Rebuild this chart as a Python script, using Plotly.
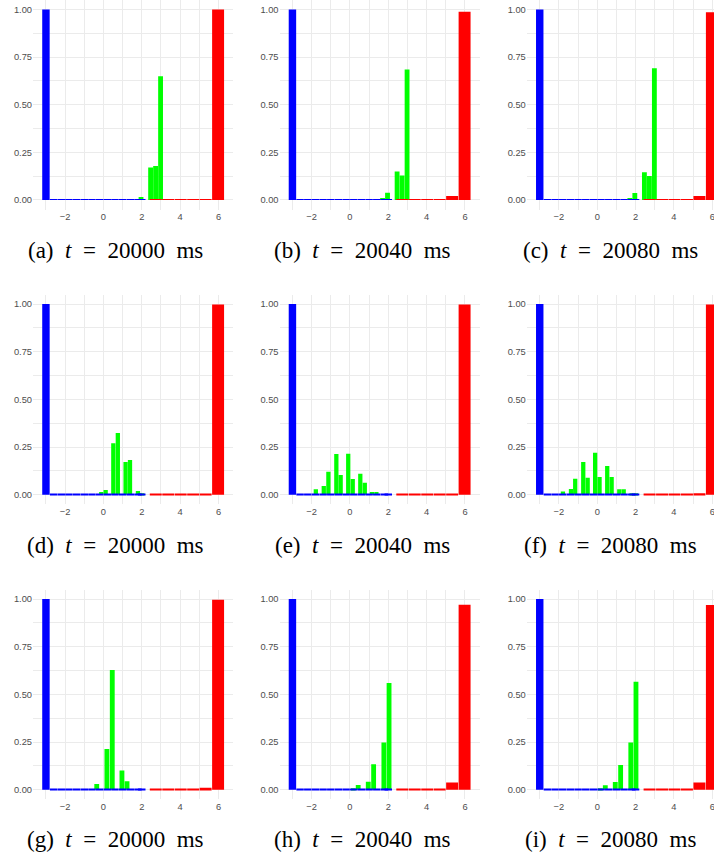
import plotly.graph_objects as go

# ---------------------------------------------------------------------------
# Data: histogram bins (centres) and bar heights for the three populations
# shown in each of the nine snapshots, (a)..(i).
# ---------------------------------------------------------------------------
PANEL_LABELS = ["(a)", "(b)", "(c)", "(d)", "(e)", "(f)", "(g)", "(h)", "(i)"]
TIMES_MS = [20000, 20040, 20080, 20000, 20040, 20080, 20000, 20040, 20080]

X_TICKS = [-2, 0, 2, 4, 6]
X_TICK_TEXT = ["\u22122", "0", "2", "4", "6"]
X_MINOR = [-3, -1, 1, 3, 5]
Y_TICKS = [0.0, 0.25, 0.5, 0.75, 1.0]
Y_TICK_TEXT = ["0.00", "0.25", "0.50", "0.75", "1.00"]
Y_MINOR = [0.125, 0.375, 0.625, 0.875]

# blue population: one bin grid shared by all snapshots
BLUE_BIN_WIDTH = 0.4
BLUE_CENTERS = [-3.0, -2.6, -2.2, -1.8, -1.4, -1.0, -0.6, -0.2,
                0.2, 0.6, 1.0, 1.4, 1.8, 2.0]
BLUE_HEIGHTS = [1.0, 0.005, 0.002, 0.002, 0.002, 0.002, 0.002, 0.002,
                0.002, 0.002, 0.002, 0.002, 0.002, 0.002]

# red population
RED_BIN_WIDTH = 0.65
RED_CENTERS = [2.73, 3.38, 4.03, 4.68, 5.33, 5.98]
RED_HEIGHTS = [
    [0.002, 0.002, 0.002, 0.002, 0.005, 1.000],
    [0.002, 0.002, 0.002, 0.005, 0.021, 0.988],
    [0.002, 0.002, 0.002, 0.005, 0.021, 0.986],
    [0.002, 0.002, 0.002, 0.002, 0.005, 0.997],
    [0.002, 0.002, 0.002, 0.002, 0.004, 0.997],
    [0.002, 0.002, 0.002, 0.004, 0.007, 0.997],
    [0.002, 0.002, 0.002, 0.005, 0.010, 0.996],
    [0.002, 0.002, 0.002, 0.005, 0.037, 0.970],
    [0.002, 0.002, 0.002, 0.005, 0.038, 0.969],
]

# green population (bin width differs per row of snapshots)
GREEN_BIN_WIDTH = [0.26, 0.23, 0.26]
GREEN_CENTERS = [
    [1.96, 2.46, 2.72, 2.98],
    [1.70, 1.96, 2.46, 2.72, 2.98],
    [1.70, 1.96, 2.46, 2.72, 2.98],
    [-0.115, 0.115, 0.515, 0.75, 1.155, 1.385, 1.80, 2.025],
    [-1.78, -1.365, -1.125, -0.71, -0.485, -0.09, 0.145, 0.54, 0.775, 1.145, 1.38],
    [-1.79, -1.37, -1.15, -0.73, -0.50, -0.11, 0.12, 0.52, 0.75, 1.15, 1.38, 1.79, 2.02],
    [-0.35, 0.18, 0.46, 0.965, 1.23],
    [0.175, 0.43, 0.955, 1.235, 1.77, 2.04],
    [0.16, 0.42, 0.94, 1.22, 1.75, 2.02],
]
GREEN_HEIGHTS = [
    [0.015, 0.170, 0.178, 0.650],
    [0.010, 0.038, 0.149, 0.128, 0.685],
    [0.010, 0.037, 0.145, 0.126, 0.692],
    [0.014, 0.024, 0.270, 0.323, 0.171, 0.182, 0.019, 0.007],
    [0.028, 0.045, 0.120, 0.213, 0.103, 0.215, 0.082, 0.110, 0.063, 0.014, 0.014],
    [0.016, 0.030, 0.084, 0.171, 0.089, 0.220, 0.093, 0.150, 0.093, 0.028, 0.028, 0.007, 0.007],
    [0.030, 0.213, 0.628, 0.101, 0.044],
    [0.007, 0.024, 0.042, 0.133, 0.248, 0.559],
    [0.007, 0.023, 0.040, 0.129, 0.247, 0.566],
]

# ---------------------------------------------------------------------------
# Layout geometry (figure is 714 x 856 px)
# ---------------------------------------------------------------------------
W, H = 714, 856
COL_LEFT_PX = [33.0, 279.5, 526.8]
PX_PER_UNIT = 19.17
X_MIN, X_MAX = -3.675, 6.775
ROW_TOP_PX = [0.0, 294.5, 589.5]
ROW_BOTTOM_PX = [209.5, 504.2, 799.2]
CAPTION_X_PX = [115.0, 362.0, 610.0]
CAPTION_Y_PX = [250.0, 545.0, 839.0]

GRID = "#EBEBEB"
TICK_FONT = dict(family="Liberation Sans, Arial, sans-serif", size=9.3, color="#4D4D4D")
BLUE, GREEN, RED = "#0000FF", "#00FF00", "#FF0000"

fig = go.Figure()
layout = dict(
    width=W, height=H, autosize=False,
    margin=dict(l=0, r=0, t=0, b=0),
    paper_bgcolor="white", plot_bgcolor="white",
    barmode="overlay", showlegend=False, hovermode=False,
    annotations=[],
)

for i in range(9):
    r, c = divmod(i, 3)
    suffix = "" if i == 0 else str(i + 1)
    xref, yref = "x" + suffix, "y" + suffix

    left = COL_LEFT_PX[c]
    right_px = left + (X_MAX - X_MIN) * PX_PER_UNIT
    if right_px > W:
        x_hi = X_MIN + (W - left) / PX_PER_UNIT
        right_px = W
    else:
        x_hi = X_MAX

    gw = GREEN_BIN_WIDTH[r]
    fig.add_trace(go.Bar(
        x=GREEN_CENTERS[i], y=GREEN_HEIGHTS[i], width=[gw * 0.97] * len(GREEN_CENTERS[i]),
        marker=dict(color=GREEN, line=dict(width=0)), xaxis=xref, yaxis=yref))
    fig.add_trace(go.Bar(
        x=BLUE_CENTERS, y=BLUE_HEIGHTS, width=[BLUE_BIN_WIDTH * 0.97] * len(BLUE_CENTERS),
        marker=dict(color=BLUE, line=dict(width=0)), xaxis=xref, yaxis=yref))
    fig.add_trace(go.Bar(
        x=RED_CENTERS, y=RED_HEIGHTS[i], width=[RED_BIN_WIDTH * 0.96] * len(RED_CENTERS),
        marker=dict(color=RED, line=dict(width=0)), xaxis=xref, yaxis=yref))

    layout["xaxis" + suffix] = dict(
        domain=[left / W, right_px / W], anchor=yref, range=[X_MIN, x_hi],
        tickmode="array", tickvals=X_TICKS, ticktext=X_TICK_TEXT,
        showgrid=True, gridcolor=GRID, gridwidth=1,
        minor=dict(tickmode="array", tickvals=X_MINOR, showgrid=True,
                   gridcolor=GRID, gridwidth=0.7),
        zeroline=False, showline=False, ticks="", tickfont=TICK_FONT,
        ticklabeloverflow="allow", fixedrange=True,
    )
    layout["yaxis" + suffix] = dict(
        domain=[1 - ROW_BOTTOM_PX[r] / H, 1 - ROW_TOP_PX[r] / H], anchor=xref,
        range=[-0.05, 1.05],
        tickmode="array", tickvals=Y_TICKS, ticktext=Y_TICK_TEXT,
        showgrid=True, gridcolor=GRID, gridwidth=1,
        minor=dict(tickmode="array", tickvals=Y_MINOR, showgrid=True,
                   gridcolor=GRID, gridwidth=0.7),
        zeroline=False, showline=False, ticks="", tickfont=TICK_FONT,
        fixedrange=True,
    )

    nb = "\u00a0"
    caption = f"{PANEL_LABELS[i]}{nb}{nb}<i>t</i>{nb}{nb}={nb}{nb}{TIMES_MS[i]}{nb}{nb}ms"
    layout["annotations"].append(dict(
        text=caption, xref="paper", yref="paper",
        x=CAPTION_X_PX[c] / W, y=1 - CAPTION_Y_PX[r] / H,
        xanchor="center", yanchor="middle", showarrow=False,
        font=dict(family="Liberation Serif, Times New Roman, serif", size=23, color="black"),
    ))

fig.update_layout(**layout)
fig.write_html("out.html")
